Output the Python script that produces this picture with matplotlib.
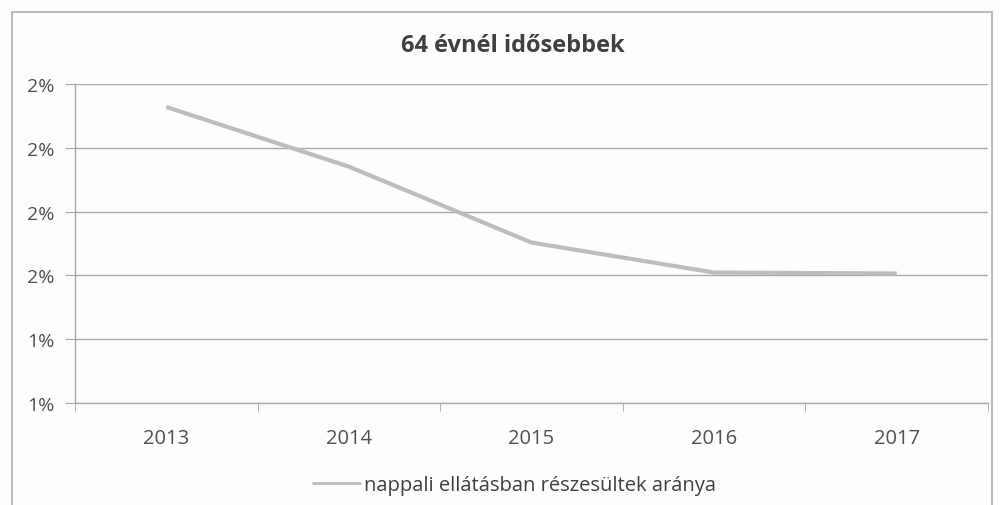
import matplotlib
matplotlib.use("Agg")
import matplotlib.pyplot as plt
from matplotlib.patches import Rectangle
from matplotlib.ticker import FuncFormatter, FixedLocator

years = ["2013", "2014", "2015", "2016", "2017"]
values = [2.128, 1.941, 1.703, 1.609, 1.606]
series_name = "nappali ellátásban részesültek aránya"
title = "64 évnél idősebbek"
y_ticks = [1.2, 1.4, 1.6, 1.8, 2.0, 2.2]

plt.rcParams['font.family'] = ['Open Sans', 'DejaVu Sans']

fig = plt.figure(figsize=(10, 5.06), dpi=100, facecolor='#fdfdfd')
ax = fig.add_axes([0.075, 0.2016, 0.913, 0.6304])
ax.set_facecolor('#fdfdfd')

x = list(range(len(years)))
ax.plot(x, values, color='#bdbdbd', lw=3, label=series_name, solid_capstyle='butt')

ax.set_xlim(-0.5, len(years) - 0.5)
ax.set_ylim(y_ticks[0], y_ticks[-1])
ax.set_yticks(y_ticks)
ax.yaxis.set_major_formatter(FuncFormatter(lambda v, p: f"{v:.0f}%"))
ax.grid(axis='y', color='#a8a8a8', lw=1)
ax.set_axisbelow(True)

ax.set_xticks(x)
ax.set_xticklabels(years)
ax.xaxis.set_minor_locator(FixedLocator([i - 0.5 for i in range(len(years) + 1)]))
ax.tick_params(axis='x', which='major', length=0, pad=18, labelsize=14.5, labelcolor='#505050')
ax.tick_params(axis='x', which='minor', length=6, color='#a8a8a8', direction='out')
ax.tick_params(axis='y', length=7, color='#a8a8a8', pad=8, labelsize=14, labelcolor='#505050')

for s in ['top', 'right']:
    ax.spines[s].set_visible(False)
for s in ['left', 'bottom']:
    ax.spines[s].set_color('#a8a8a8')
    ax.spines[s].set_linewidth(1)

fig.text(0.513, 0.91, title, ha='center', va='center', fontsize=17, fontweight='bold', color='#404040')

leg = fig.legend(loc='center', bbox_to_anchor=(0.514, 0.04), frameon=False, fontsize=14.5,
                 handlelength=2.4, handletextpad=0.15)
for t in leg.get_texts():
    t.set_color('#404040')
for h in leg.get_lines():
    h.set_linewidth(2)

fig.patches.append(Rectangle((0.012, -0.02), 0.98, 0.995, transform=fig.transFigure,
                             fill=False, edgecolor='#b0b0b0', lw=1.2))

fig.savefig('out.png', dpi=100, facecolor=fig.get_facecolor())
